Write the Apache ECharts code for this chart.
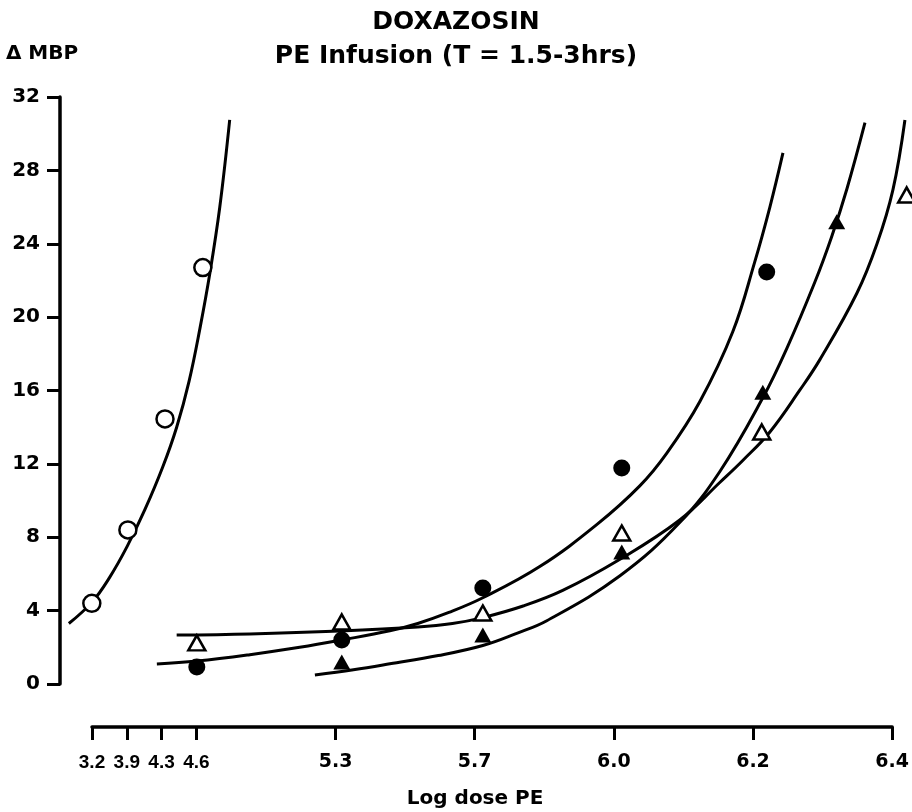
<!DOCTYPE html>
<html>
<head>
<meta charset="utf-8">
<script src="https://cdn.jsdelivr.net/npm/echarts@6/dist/echarts.min.js"></script>
<style>
html, body { margin: 0; padding: 0; background: #fff; }
#chart { width: 912px; height: 812px; }
</style>
</head>
<body>
<div id="chart"></div>
<script>
// x positions are axis slots: the dose axis is not linear, so each label gets a slot
const tickPos = [0, 1, 2, 3, 7, 11, 15, 19, 23];
const tickLabels = ['3.2', '3.9', '4.3', '4.6', '5.3', '5.7', '6.0', '6.2', '6.4'];

// measured points
const openCircleX = [0, 1.02, 2.07, 3.14];
const openCircleY = [4.4, 8.4, 14.45, 22.7];
const filledCircleX = [2.97, 7.07, 11.06, 14.99, 19.09];
const filledCircleY = [0.93, 2.4, 5.23, 11.78, 22.46];
const openTriX = [2.97, 7.07, 11.06, 14.99, 18.95, 23.05];
const openTriY = [2.24, 3.38, 3.87, 8.23, 13.74, 26.66];
const filledTriX = [7.07, 11.06, 14.99, 18.98, 21.07];
const filledTriY = [1.2, 2.67, 7.2, 15.9, 25.2];

// fitted curves
const curveOpenCircleX = [-0.65, 0, 0.5, 1.0, 1.5, 2.0, 2.4, 2.75, 3.06, 3.34, 3.62, 3.9];
const curveOpenCircleY = [3.3, 4.45, 5.8, 7.5, 9.5, 11.8, 14.0, 16.5, 19.4, 22.4, 26.0, 30.75];
const curveFilledCircleX = [1.84, 2.97, 4.47, 5.88, 7.07, 8.43, 9.22, 10.1, 11.06, 12.67, 14.29, 15.5, 16.27, 17.2, 18.13, 18.75, 19.18, 19.55];
const curveFilledCircleY = [1.09, 1.25, 1.6, 2.0, 2.4, 2.9, 3.3, 3.9, 4.7, 6.4, 8.7, 10.8, 12.6, 15.4, 19.2, 23.0, 26.0, 28.95];
const curveOpenTriX = [2.4, 4.47, 7.02, 9.22, 10.2, 11.06, 12.2, 13.32, 14.94, 16.63, 17.77, 18.42, 19.18, 20.03, 20.59, 21.64, 22.21, 22.66, 23.0];
const curveOpenTriY = [2.67, 2.73, 2.89, 3.11, 3.3, 3.62, 4.25, 5.1, 6.8, 8.94, 11.0, 12.2, 13.74, 16.03, 17.67, 21.3, 24.0, 26.94, 30.75];
const curveFilledTriX = [6.31, 7.4, 8.43, 9.8, 11.06, 12.0, 12.87, 14.94, 16.63, 17.77, 18.98, 19.66, 20.45, 20.93, 21.36, 21.87];
const curveFilledTriY = [0.49, 0.78, 1.1, 1.55, 2.1, 2.75, 3.45, 5.9, 8.8, 11.6, 15.6, 18.3, 21.9, 24.4, 27.0, 30.6];

function zip(xs, ys) {
    return xs.map(function (x, i) { return [x, ys[i]]; });
}

let myChart = echarts.init(document.getElementById('chart'));

function curve(xs, ys) {
    return {
        type: 'line',
        xAxisIndex: 0,
        yAxisIndex: 0,
        data: zip(xs, ys),
        showSymbol: false,
        symbol: 'none',
        smooth: 0.4,
        lineStyle: { color: '#000', width: 3 },
        z: 2,
        silent: true
    };
}

function points(xs, ys, symbol, size, filled) {
    return {
        type: 'scatter',
        xAxisIndex: 0,
        yAxisIndex: 0,
        data: zip(xs, ys),
        symbol: symbol,
        symbolSize: size,
        itemStyle: filled
            ? { color: '#000', opacity: 1 }
            : { color: '#fff', borderColor: '#000', borderWidth: 2.5, opacity: 1 },
        z: 4
    };
}

let option = {
    backgroundColor: '#fff',
    animation: false,
    title: {
        text: 'DOXAZOSIN\nPE Infusion (T = 1.5-3hrs)',
        left: 'center',
        top: 0,
        textStyle: {
            fontFamily: 'DejaVu Sans',
            fontWeight: 'bold',
            fontSize: 25,
            lineHeight: 34,
            color: '#000'
        }
    },
    grid: [
        { left: 60, right: 0, top: 97, bottom: 128 },
        { left: 92, right: 7, top: 726, height: 1 }
    ],
    xAxis: [
        {
            gridIndex: 0,
            type: 'value',
            min: -0.9,
            max: 23.2,
            show: false
        },
        {
            gridIndex: 1,
            type: 'value',
            min: 0,
            max: 23,
            name: 'Log dose PE',
            nameLocation: 'middle',
            nameGap: 62,
            nameTextStyle: {
                fontFamily: 'DejaVu Sans',
                fontWeight: 'bold',
                fontSize: 20,
                color: '#000',
                padding: [0, 34, 0, 0]
            },
            axisLine: { lineStyle: { color: '#000', width: 3.5 } },
            axisTick: {
                customValues: tickPos,
                length: 13,
                lineStyle: { color: '#000', width: 3 }
            },
            splitLine: { show: false },
            axisLabel: {
                customValues: tickPos,
                margin: 26,
                fontFamily: 'DejaVu Sans',
                fontWeight: 'bold',
                fontSize: 19,
                color: '#000',
                formatter: function (v) {
                    let i = tickPos.indexOf(v);
                    if (i < 0) return '';
                    return (i < 4 ? '{a|' : '{b|') + tickLabels[i] + '}';
                },
                rich: {
                    a: { fontFamily: 'Liberation Sans', fontWeight: 'bold', fontSize: 19, color: '#000' },
                    b: { fontFamily: 'DejaVu Sans', fontWeight: 'bold', fontSize: 19, color: '#000' }
                }
            }
        }
    ],
    yAxis: [
        {
            gridIndex: 0,
            type: 'value',
            min: 0,
            max: 32,
            interval: 4,
            name: 'Δ MBP',
            nameLocation: 'end',
            nameGap: 33,
            nameTextStyle: {
                fontFamily: 'DejaVu Sans',
                fontWeight: 'bold',
                fontSize: 20,
                color: '#000',
                align: 'center',
                padding: [0, 36, 0, 0]
            },
            axisLine: { show: true, onZero: false, lineStyle: { color: '#000', width: 3.5 } },
            axisTick: { show: true, length: 13, lineStyle: { color: '#000', width: 3 } },
            splitLine: { show: false },
            axisLabel: {
                margin: 20,
                fontFamily: 'DejaVu Sans',
                fontWeight: 'bold',
                fontSize: 20,
                color: '#000'
            }
        },
        {
            gridIndex: 1,
            type: 'value',
            show: false
        }
    ],
    series: [
        curve(curveOpenCircleX, curveOpenCircleY),
        curve(curveFilledCircleX, curveFilledCircleY),
        curve(curveOpenTriX, curveOpenTriY),
        curve(curveFilledTriX, curveFilledTriY),
        points(openCircleX, openCircleY, 'circle', 17, false),
        points(filledCircleX, filledCircleY, 'circle', 17, true),
        points(openTriX, openTriY, 'triangle', [17, 15], false),
        points(filledTriX, filledTriY, 'triangle', [17, 15], true)
    ]
};

myChart.setOption(option);
window.addEventListener('resize', function () {
    myChart.resize();
});
</script>
</body>
</html>
